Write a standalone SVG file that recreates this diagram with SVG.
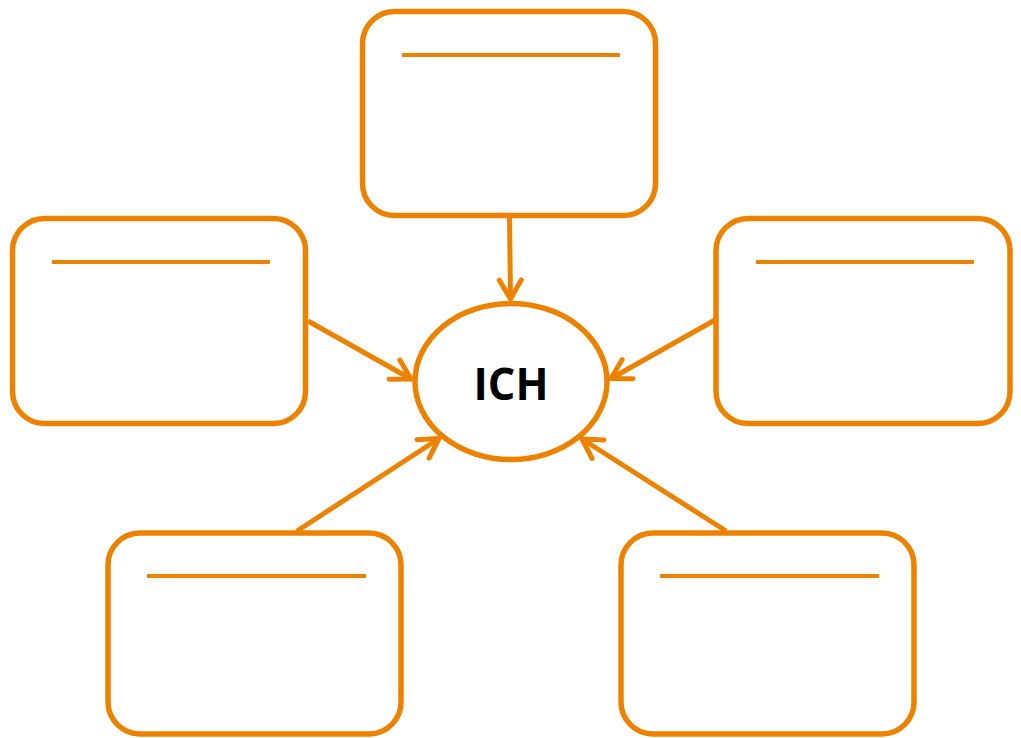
<svg xmlns="http://www.w3.org/2000/svg" width="1021" height="738" viewBox="0 0 1021 738">
<style>
.box{fill:#fff;stroke:#ED8200;stroke-width:5.5}
.bar{stroke:#ED8200;stroke-width:4}
.conn{stroke:#ED8200;stroke-width:5;fill:none;marker-end:url(#arr)}
.lbl{font-family:"Open Sans","Liberation Sans",sans-serif;font-weight:bold;font-size:45px;fill:#000}
</style>
<defs>
<marker id="arr" markerUnits="userSpaceOnUse" viewBox="-25 -15 30 30" refX="0" refY="0" markerWidth="30" markerHeight="30" orient="auto">
<path d="M-19,-11 L0,0 L-19,11" fill="none" stroke="#ED8200" stroke-width="5" stroke-linecap="round" stroke-linejoin="round"/>
</marker>
</defs>
<rect width="1021" height="738" fill="#fff"/>
<g id="connectors">
<line class="conn" x1="509.5" y1="217" x2="510.5" y2="299"/>
<line class="conn" x1="308" y1="321" x2="411" y2="379"/>
<line class="conn" x1="715" y1="320" x2="611" y2="378.5"/>
<line class="conn" x1="297" y1="531" x2="439" y2="438.5"/>
<line class="conn" x1="726" y1="531" x2="582" y2="439"/>
</g>
<g id="box-top">
<rect class="box" x="362.5" y="11.5" width="293" height="204" rx="32"/>
<line class="bar" x1="402" y1="55" x2="620" y2="55"/>
</g>
<g id="box-left">
<rect class="box" x="12.5" y="218.5" width="293" height="205" rx="32"/>
<line class="bar" x1="52" y1="262" x2="270" y2="262"/>
</g>
<g id="box-right">
<rect class="box" x="716" y="218.5" width="294" height="205" rx="32"/>
<line class="bar" x1="756" y1="262" x2="974" y2="262"/>
</g>
<g id="box-bottom-left">
<rect class="box" x="108" y="533" width="293" height="201" rx="32"/>
<line class="bar" x1="147" y1="576" x2="366" y2="576"/>
</g>
<g id="box-bottom-right">
<rect class="box" x="621" y="533" width="293" height="201" rx="32"/>
<line class="bar" x1="660" y1="576" x2="879" y2="576"/>
</g>
<g id="ich">
<ellipse class="box" cx="511" cy="381.5" rx="96" ry="78"/>
<text class="lbl" x="511" y="400" text-anchor="middle" textLength="75" lengthAdjust="spacingAndGlyphs">ICH</text>
</g>
</svg>
